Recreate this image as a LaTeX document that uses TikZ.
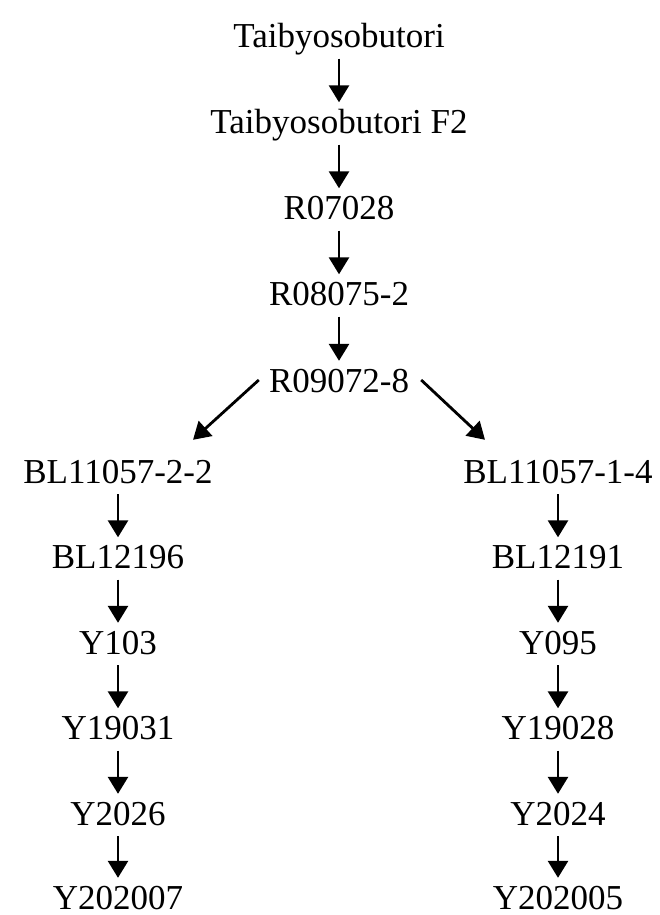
\documentclass[tikz,border=0pt]{standalone}
\usepackage{fontspec}
\setmainfont{Liberation Serif}
\usetikzlibrary{arrows.meta}
\begin{document}
\begin{tikzpicture}[x=1pt,y=-1pt,
  lbl/.style={anchor=base, inner xsep=0pt, inner ysep=8pt, text height=23pt, text depth=3pt, font=\fontsize{35}{40}\selectfont},
  lastlbl/.style={lbl, inner ysep=4pt, text height=27pt, text depth=0pt},
  arr/.style={line width=2.8pt, -{Triangle[width=20pt,length=17pt]}}]
\useasboundingbox (0,0) rectangle (659,915);
% top chain
\node[lbl] (a) at (339,47.5) {Taibyosobutori};
\node[lbl] (b) at (339,133.5) {Taibyosobutori F2};
\node[lbl] (c) at (339,219.5) {R07028};
\node[lbl] (d) at (339,305.5) {R08075-2};
\node[lbl] (e) at (339,392) {R09072-8};
% left chain
\node[lbl] (l1) at (118,483) {BL11057-2-2};
\node[lbl] (l2) at (118,568.5) {BL12196};
\node[lbl] (l3) at (118,654) {Y103};
\node[lbl] (l4) at (118,739.5) {Y19031};
\node[lbl] (l5) at (118,825) {Y2026};
\node[lastlbl] (l6) at (118,909) {Y202007};
% right chain
\node[lbl] (r1) at (558,483) {BL11057-1-4};
\node[lbl] (r2) at (558,568.5) {BL12191};
\node[lbl] (r3) at (558,654) {Y095};
\node[lbl] (r4) at (558,739.5) {Y19028};
\node[lbl] (r5) at (558,825) {Y2024};
\node[lastlbl] (r6) at (558,909) {Y202005};
% vertical arrows
\foreach \u/\v in {a/b,b/c,c/d,d/e,l1/l2,l2/l3,l3/l4,l4/l5,l5/l6,r1/r2,r2/r3,r3/r4,r4/r5,r5/r6}
  \draw[arr] (\u.south) -- (\v.north);
% branch arrows
\draw[arr] ([xshift=-10pt,yshift=2pt]e.west) -- ([xshift=75pt,yshift=12pt]l1.north);
\draw[arr] ([xshift=12pt,yshift=2pt]e.east) -- ([xshift=-73pt,yshift=12pt]r1.north);
\end{tikzpicture}
\end{document}
